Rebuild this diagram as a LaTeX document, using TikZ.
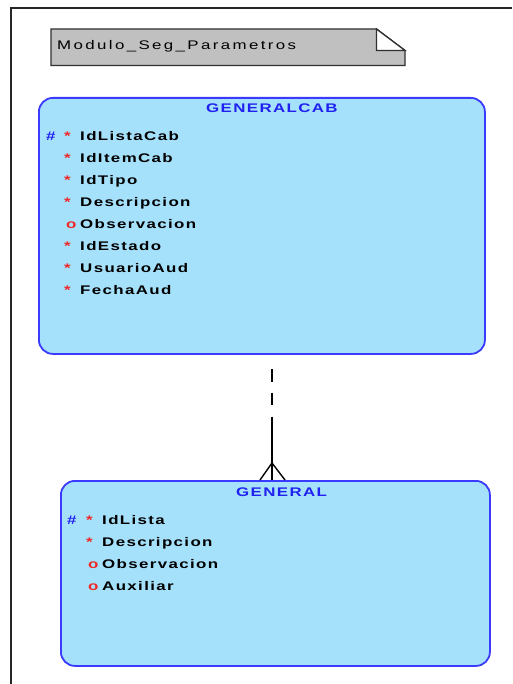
\documentclass[tikz,border=0pt]{standalone}
\usepackage{fontspec}
\usetikzlibrary{calc}
% wide, spaced sans faces of the modelling tool
\newfontfamily\erdfont[FakeStretch=1.35,LetterSpace=11]{Liberation Sans}
\newfontfamily\notefont[FakeStretch=1.35,LetterSpace=19]{Liberation Sans}
\definecolor{entityfill}{HTML}{A6E1FC}
\definecolor{entityline}{HTML}{3B3BFF}
\definecolor{titleblue}{HTML}{2020F0}
\definecolor{markred}{HTML}{F02828}
\definecolor{notefill}{HTML}{C0C0C0}
\definecolor{noteline}{HTML}{303030}
\begin{document}
\begin{tikzpicture}[x=1pt,y=-1pt,
  entity/.style={draw=entityline, fill=entityfill, line width=1.8pt,
    rounded corners=14pt, inner sep=0pt, anchor=north west},
  txt/.style={inner sep=0pt, anchor=base west,
    font=\erdfont\bfseries\fontsize{12.5}{15}\selectfont},
  title/.style={txt, text=titleblue},
  attr/.style={txt, text=black},
  pk/.style={txt, text=titleblue},
  mand/.style={txt, text=markred},
  opt/.style={txt, text=markred},
  rel/.style={line width=1.4pt, black},
  frame/.style={line width=2.5pt, black!85}]
\useasboundingbox (0,0) rectangle (512,684);

% page frame
\draw[frame] (11,684) -- (11,8) -- (512,8);

% subject area note
\draw[fill=notefill, draw=noteline, line width=1.3pt]
  (51,29) -- (376.5,29) -- (405,50.5) -- (405,65.5) -- (51,65.5) -- cycle;
\draw[fill=white, draw=noteline, line width=1.3pt]
  (376.5,29) -- (376.5,50.5) -- (405,50.5) -- cycle;
\node[inner sep=0pt, anchor=base west,
  font=\notefont\fontsize{12.5}{15}\selectfont] (note) at (57,50) {Modulo\_Seg\_Parametros};

% entity GENERALCAB
\node[entity, minimum width=446pt, minimum height=256pt] (cab) at (38,97) {};
\node[title] (cabt) at (206,112.7) {GENERALCAB};
\node[pk] (cabpk) at (46,140.7) {\#};
\node[mand] (cabm1) at (64,140.7) {*};
\node[attr] (caba1) at (80,140.7) {IdListaCab};
\node[mand] (cabm2) at (64,162.7) {*};
\node[attr] (caba2) at (80,162.7) {IdItemCab};
\node[mand] (cabm3) at (64,184.7) {*};
\node[attr] (caba3) at (80,184.7) {IdTipo};
\node[mand] (cabm4) at (64,206.7) {*};
\node[attr] (caba4) at (80,206.7) {Descripcion};
\node[opt] (cabo5) at (66,228.7) {o};
\node[attr] (caba5) at (80,228.7) {Observacion};
\node[mand] (cabm6) at (64,250.7) {*};
\node[attr] (caba6) at (80,250.7) {IdEstado};
\node[mand] (cabm7) at (64,272.7) {*};
\node[attr] (caba7) at (80,272.7) {UsuarioAud};
\node[mand] (cabm8) at (64,294.7) {*};
\node[attr] (caba8) at (80,294.7) {FechaAud};

% entity GENERAL
\node[entity, minimum width=429pt, minimum height=185pt] (gen) at (60,480) {};
\node[title] (gent) at (236,496.5) {GENERAL};
\node[pk] (genpk) at (67,524.3) {\#};
\node[mand] (genm1) at (86,524.3) {*};
\node[attr] (gena1) at (102,524.3) {IdLista};
\node[mand] (genm2) at (86,546.3) {*};
\node[attr] (gena2) at (102,546.3) {Descripcion};
\node[opt] (geno3) at (88,568.3) {o};
\node[attr] (gena3) at (102,568.3) {Observacion};
\node[opt] (geno4) at (88,590.3) {o};
\node[attr] (gena4) at (102,590.3) {Auxiliar};

% one-to-many relationship, optional on the parent side
\coordinate (relx) at (272,0);
\coordinate (relmid) at (272,416.5);
\coordinate (crow) at (272,463);
\draw[rel, dash pattern=on 0pt off 14.5pt on 12.5pt off 11pt on 12.5pt off 20pt]
  (cab.south -| relx) -- (relmid);
\draw[rel] (relmid) -- (gen.north -| relx);
\draw[rel] (crow) -- (gen.north -| 260,0);
\draw[rel] (crow) -- (gen.north -| 285,0);
\end{tikzpicture}
\end{document}
